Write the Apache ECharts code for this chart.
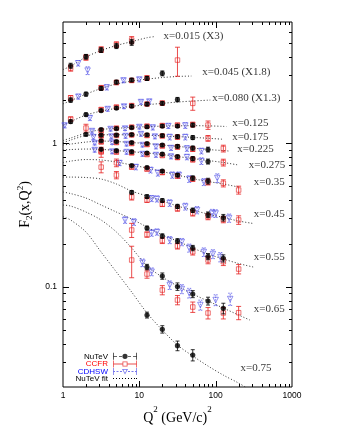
<!DOCTYPE html>
<html><head><meta charset="utf-8">
<script src="https://cdn.jsdelivr.net/npm/echarts@6/dist/echarts.min.js"></script>
<style>html,body{margin:0;padding:0;background:#fff}#c{width:338px;height:438px}</style>
</head><body><div id="c"></div>
<script>
// ---------------- data (values as plotted, i.e. already scaled) ----------------
const binLabels = ['x=0.015 (X3)','x=0.045 (X1.8)','x=0.080 (X1.3)','x=0.125','x=0.175','x=0.225','x=0.275','x=0.35','x=0.45','x=0.55','x=0.65','x=0.75'];
const xTickLabels = ['1','10','100','1000'];
const yTickLabels = ['0.1','1'];
const legendNames = ['NuTeV','CCFR','CDHSW','NuTeV fit'];

// [Q2, F2, error]
const nutev_015 = [[1.26,3.47,0.14],[2.00,4.01,0.15],[3.16,4.46,0.17],[5.01,4.76,0.19],[7.94,5.05,0.24]];
const ccfr_015  = [[1.26,3.34,0.16],[2.00,3.96,0.17],[3.16,4.50,0.20],[5.01,4.87,0.22],[7.94,5.24,0.30]];
const cdhsw_015 = [[1.58,3.61,0.16],[2.10,3.21,0.20]];
const fit_015   = [[1,3.26],[1.26,3.45],[2,3.99],[3.16,4.43],[5.01,4.80],[7.94,5.11],[12.6,5.44],[16,5.54]];

const nutev_045 = [[1.26,2.00,0.07],[2.00,2.20,0.07],[3.16,2.41,0.07],[5.01,2.67,0.08],[7.94,2.76,0.08],[12.6,2.83,0.09],[20.0,3.07,0.12]];
const ccfr_045  = [[1.26,2.07,0.08],[3.16,2.44,0.08],[5.01,2.65,0.09],[7.94,2.74,0.09],[12.6,2.85,0.10],[31.6,3.80,0.87]];
const cdhsw_045 = [[1.59,2.11,0.08],[3.75,2.45,0.10],[6.2,2.74,0.10],[10.0,2.78,0.10]];
const fit_045   = [[1,1.88],[1.26,1.98],[2,2.20],[3.16,2.41],[5.01,2.59],[7.94,2.71],[12.6,2.80],[20,2.87],[31.6,2.92],[48,2.94]];

const nutev_080 = [[1.26,1.416,0.04],[2.00,1.585,0.04],[3.16,1.690,0.04],[5.01,1.759,0.04],[7.94,1.816,0.045],[12.6,1.876,0.05],[20.0,1.897,0.05],[31.6,2.016,0.07]];
const ccfr_080  = [[1.26,1.474,0.05],[3.16,1.718,0.05],[5.01,1.788,0.05],[7.94,1.831,0.05],[12.6,1.876,0.05],[20.0,1.906,0.06],[50.1,1.897,0.20]];
const cdhsw_080 = [[1.05,1.329,0.05],[2.25,1.498,0.06],[3.85,1.731,0.06],[6.3,1.803,0.06],[10.5,1.937,0.07],[13.5,1.952,0.07]];
const fit_080   = [[1,1.329],[1.26,1.416],[2,1.572],[3.16,1.676],[5.01,1.751],[7.94,1.808],[12.6,1.855],[20,1.897],[31.6,1.937],[50,1.969],[85,2.000]];

const nutev_125 = [[3.16,1.246,0.025],[5.01,1.266,0.025],[7.94,1.287,0.025],[12.6,1.303,0.03],[20.0,1.318,0.03],[31.6,1.318,0.03],[50.1,1.339,0.04]];
const ccfr_125  = [[3.16,1.226,0.03],[5.01,1.276,0.03],[7.94,1.297,0.03],[12.6,1.318,0.03],[20.0,1.329,0.035],[31.6,1.339,0.04],[50.1,1.350,0.05],[79.4,1.339,0.09]];
const cdhsw_125 = [[2.4,1.216,0.04],[4.2,1.256,0.04],[6.5,1.266,0.04],[10,1.297,0.04],[15,1.287,0.05],[24,1.318,0.05],[40,1.329,0.06]];
const fit_125   = [[1,1.044],[1.26,1.087],[2,1.178],[3.16,1.246],[5.01,1.270],[7.94,1.291],[12.6,1.305],[20,1.316],[31.6,1.322],[50,1.326],[79.4,1.322],[126,1.311],[140,1.307]];

const nutev_175 = [[2.00,1.153,0.025],[3.16,1.141,0.02],[5.01,1.141,0.02],[7.94,1.150,0.02],[12.6,1.146,0.025],[20.0,1.132,0.025],[31.6,1.113,0.03],[50.1,1.096,0.035]];
const ccfr_175  = [[2.00,1.276,0.08],[3.16,1.123,0.025],[5.01,1.132,0.025],[7.94,1.141,0.025],[12.6,1.132,0.03],[20.0,1.123,0.03],[31.6,1.104,0.035],[79.4,1.082,0.05]];
const cdhsw_175 = [[2.5,1.104,0.04],[4.3,1.113,0.04],[6.6,1.123,0.04],[10.5,1.159,0.04],[16,1.113,0.04],[25,1.104,0.05],[40,1.104,0.05]];
const fit_175   = [[1,1.011],[1.26,1.053],[2,1.132],[3.16,1.144],[5.01,1.146],[7.94,1.144],[12.6,1.137],[20,1.126],[31.6,1.113],[50,1.099],[79.4,1.083],[126,1.066]];

const nutev_225 = [[3.16,1.041,0.02],[5.01,1.028,0.02],[7.94,1.011,0.02],[12.6,0.995,0.02],[20.0,0.972,0.02],[31.6,0.952,0.025],[50.1,0.926,0.03],[79.4,0.904,0.035]];
const ccfr_225  = [[3.16,1.019,0.025],[5.01,1.011,0.025],[7.94,0.995,0.025],[12.6,0.979,0.025],[20.0,0.956,0.025],[31.6,0.941,0.03],[50.1,0.911,0.035],[126,0.919,0.05]];
const cdhsw_225 = [[2.6,1.003,0.03],[4.4,1.011,0.03],[6.8,0.987,0.03],[11,0.972,0.03],[16.5,0.948,0.035],[26,0.926,0.035],[42,0.919,0.04],[65,0.882,0.04]];
const fit_225   = [[1,0.972],[1.26,0.987],[2,1.019],[3.16,1.036],[5.01,1.028],[7.94,1.011],[12.6,0.995],[20,0.972],[31.6,0.952],[50,0.926],[79.4,0.904],[126,0.889],[150,0.882]];

const nutev_275 = [[3.16,0.907,0.02],[5.01,0.887,0.02],[7.94,0.873,0.02],[12.6,0.855,0.02],[20.0,0.841,0.02],[31.6,0.808,0.02],[50.1,0.782,0.025],[79.4,0.746,0.03]];
const ccfr_275  = [[3.16,0.882,0.025],[5.01,0.868,0.025],[7.94,0.855,0.02],[12.6,0.834,0.02],[20.0,0.821,0.02],[31.6,0.795,0.025],[50.1,0.770,0.03],[126,0.734,0.04]];
const cdhsw_275 = [[2.6,0.897,0.03],[4.4,0.875,0.03],[6.8,0.868,0.03],[11,0.841,0.03],[16.5,0.828,0.03],[26,0.808,0.03],[42,0.801,0.035],[65,0.751,0.04]];
const fit_275   = [[1,0.897],[1.26,0.904],[2,0.911],[3.16,0.907],[5.01,0.889],[7.94,0.873],[12.6,0.855],[20,0.834],[31.6,0.808],[50,0.782],[79.4,0.758],[126,0.734],[200,0.705]];

const nutev_35 = [[7.94,0.699,0.015],[12.6,0.677,0.015],[20.0,0.640,0.015],[31.6,0.600,0.015],[50.1,0.572,0.02],[79.4,0.545,0.025]];
const ccfr_35  = [[3.16,0.868,0.07],[5.01,0.731,0.045],[7.94,0.682,0.02],[12.6,0.661,0.02],[20.0,0.625,0.02],[31.6,0.591,0.02],[50.1,0.563,0.02],[79.4,0.537,0.025],[126,0.526,0.03],[200,0.472,0.03]];
const cdhsw_35 = [[5.5,0.728,0.03],[9,0.682,0.03],[14,0.650,0.03],[17.5,0.620,0.03],[27,0.600,0.03],[33,0.600,0.03],[45,0.563,0.03],[70,0.537,0.03],[105,0.572,0.04]];
const fit_35   = [[1,0.734],[1.26,0.751],[2,0.770],[3.16,0.764],[5.01,0.740],[7.94,0.705],[12.6,0.672],[20,0.635],[31.6,0.600],[50,0.567],[79.4,0.541],[126,0.520],[200,0.495]];

const nutev_45 = [[7.94,0.455,0.012],[12.6,0.425,0.012],[20.0,0.399,0.012],[31.6,0.363,0.012],[50.1,0.341,0.012],[79.4,0.318,0.014],[126,0.303,0.016]];
const ccfr_45  = [[3.16,0.682,0.06],[5.01,0.600,0.035],[7.94,0.422,0.02],[12.6,0.402,0.015],[20.0,0.377,0.015],[31.6,0.351,0.015],[50.1,0.326,0.015],[79.4,0.308,0.015],[126,0.294,0.015],[200,0.292,0.02]];
const cdhsw_45 = [[14.5,0.412,0.02],[17,0.409,0.02],[25,0.383,0.02],[40,0.362,0.02],[57,0.342,0.02],[90,0.326,0.02],[100,0.324,0.02],[150,0.301,0.02]];
const fit_45   = [[1,0.581],[1.26,0.581],[2,0.577],[3.16,0.563],[5.01,0.520],[7.94,0.464],[12.6,0.429],[20,0.396],[31.6,0.365],[50,0.342],[79.4,0.321],[126,0.304],[200,0.287],[310,0.276]];

const nutev_55 = [[12.6,0.2565,0.008],[20.0,0.2255,0.008],[31.6,0.2083,0.008],[50.1,0.1861,0.008],[79.4,0.1623,0.008],[126,0.1577,0.009]];
const ccfr_55  = [[7.94,0.2484,0.028],[12.6,0.2311,0.01],[20.0,0.2099,0.01],[31.6,0.1921,0.009],[50.1,0.1753,0.009],[79.4,0.1535,0.009],[126,0.1494,0.009],[200,0.1328,0.01]];
const cdhsw_55 = [[6.5,0.2915,0.015],[8.5,0.2824,0.015],[14.5,0.2367,0.012],[17,0.2405,0.012],[25,0.2116,0.012],[36,0.2049,0.012],[45,0.1861,0.012],[70,0.1744,0.012],[92,0.169,0.012],[115,0.161,0.012]];
const fit_55   = [[1,0.457],[1.26,0.446],[2,0.415],[3.16,0.371],[5.01,0.3315],[7.94,0.2963],[12.6,0.2606],[20,0.2292],[31.6,0.2083],[50,0.1861],[79.4,0.169],[126,0.156],[200,0.1451],[310,0.1372]];

const nutev_65 = [[12.6,0.1372,0.006],[20.0,0.1187,0.006],[31.6,0.1003,0.006],[50.1,0.0889,0.005],[79.4,0.0795,0.005],[126,0.0707,0.006]];
const ccfr_65  = [[7.94,0.1535,0.038],[12.6,0.1226,0.008],[20.0,0.0948,0.007],[31.6,0.0808,0.006],[50.1,0.0722,0.006],[79.4,0.0656,0.006],[126,0.0656,0.006],[200,0.0659,0.007]];
const cdhsw_65 = [[11,0.147,0.009],[14.5,0.1272,0.008],[25,0.1027,0.007],[36,0.0964,0.007],[45,0.0904,0.007],[63,0.0746,0.006],[100,0.0808,0.007],[155,0.0821,0.008]];
const fit_65   = [[1,0.371],[1.26,0.365],[2,0.3315],[3.16,0.2915],[5.01,0.2405],[7.94,0.1861],[12.6,0.1394],[20,0.1168],[31.6,0.1011],[50,0.0889],[79.4,0.0795],[126,0.0710],[200,0.0635],[280,0.0586]];

const nutev_75 = [[12.6,0.0635,0.003],[20.0,0.0505,0.003],[31.6,0.0388,0.003],[50.1,0.0334,0.003]];
const ccfr_75  = [];
const cdhsw_75 = [];
const fit_75   = [[1,0.3075],[1.26,0.2915],[2,0.2405],[3.16,0.1744],[5.01,0.1266],[7.94,0.0918],[12.6,0.0656],[20,0.0499],[31.6,0.0392],[50,0.0329],[79.4,0.028],[126,0.0242],[200,0.0213],[245,0.0200]];

const nutevBins = [nutev_015,nutev_045,nutev_080,nutev_125,nutev_175,nutev_225,nutev_275,nutev_35,nutev_45,nutev_55,nutev_65,nutev_75];
const ccfrBins  = [ccfr_015,ccfr_045,ccfr_080,ccfr_125,ccfr_175,ccfr_225,ccfr_275,ccfr_35,ccfr_45,ccfr_55,ccfr_65,ccfr_75];
const cdhswBins = [cdhsw_015,cdhsw_045,cdhsw_080,cdhsw_125,cdhsw_175,cdhsw_225,cdhsw_275,cdhsw_35,cdhsw_45,cdhsw_55,cdhsw_65,cdhsw_75];
const fitBins   = [fit_015,fit_045,fit_080,fit_125,fit_175,fit_225,fit_275,fit_35,fit_45,fit_55,fit_65,fit_75];

// ---------------- layout / style ----------------
const labelAnchors = [[20.4,5.585],[65.6,3.15],[88.8,2.055],[162,1.39],[162,1.105],[189,0.911],[268,0.705],[311,0.539],[311,0.321],[311,0.1618],[311,0.0696],[208,0.027]];
const X_MIN = 1, X_MAX = 1000, Y_MIN = 0.02, Y_MAX = 7;
const SERIF = '"Liberation Serif", "Times New Roman", serif';
const SANS = '"Liberation Sans", Arial, sans-serif';
const C_NUTEV = '#000000', C_CCFR = '#e62020', C_CDHSW = '#5555e8', C_FIT = '#333333';

const ICON_NUTEV = 'path://M0,0h0.8v7h-0.8z M0,3.1h4v0.8h-4z M6,3.1h3v0.8h-3z M15,3.1h3v0.8h-3z M20,3.1h4v0.8h-4z M23.2,0h0.8v7h-0.8z M14.6,3.5a2.6,2.6 0 1,0 -5.2,0a2.6,2.6 0 1,0 5.2,0z';
const ICON_CCFR = 'path://M0,0h0.8v7h-0.8z M0,3.1h9.5v0.8h-9.5z M14.5,3.1h9.5v0.8h-9.5z M23.2,0h0.8v7h-0.8z M9.5,1h5v5h-5z M10.3,1.8v3.4h3.4v-3.4z';
const ICON_CDHSW = 'path://M0,0h0.8v7h-0.8z M0,3.1h2v0.8h-2z M3.5,3.1h2v0.8h-2z M7,3.1h2v0.8h-2z M15,3.1h2v0.8h-2z M18.5,3.1h2v0.8h-2z M22,3.1h2v0.8h-2z M23.2,0h0.8v7h-0.8z M9,1L15,1L12,6.5z M10.4,1.8L12,4.9L13.6,1.8z';
const ICON_FIT = 'path://M0,0h1v1h-1z M3,0h1v1h-1z M6,0h1v1h-1z M9,0h1v1h-1z M12,0h1v1h-1z M15,0h1v1h-1z M18,0h1v1h-1z M21,0h1v1h-1z M23,0h1v1h-1z';

function errSeries(name, data, color, cap, dash, z) {
  return {
    type: 'custom', name: name, data: data, z: z, silent: true,
    encode: {x: 0, y: 1},
    renderItem: function (params, api) {
      const x = api.value(0), v = api.value(1), e = api.value(2);
      const lo = api.coord([x, v - e]), hi = api.coord([x, v + e]);
      const st = {stroke: color, lineWidth: 0.8, lineDash: dash, fill: null};
      return {type: 'group', children: [
        {type: 'line', shape: {x1: lo[0], y1: lo[1], x2: hi[0], y2: hi[1]}, style: st},
        {type: 'line', shape: {x1: lo[0] - cap, y1: lo[1], x2: lo[0] + cap, y2: lo[1]}, style: st},
        {type: 'line', shape: {x1: hi[0] - cap, y1: hi[1], x2: hi[0] + cap, y2: hi[1]}, style: st}
      ]};
    }
  };
}

const series = [];
fitBins.forEach(function (d) {
  series.push({type: 'line', name: 'NuTeV fit', data: d, smooth: 0.3, symbol: 'none', silent: true, z: 1,
    lineStyle: {color: C_FIT, width: 1, type: [1, 2]}, itemStyle: {color: C_FIT}});
});
cdhswBins.forEach(function (d) {
  series.push(errSeries('CDHSW err', d, C_CDHSW, 2, [1.5, 1], 2));
  series.push({type: 'scatter', name: 'CDHSW', data: d, symbol: 'triangle', symbolRotate: 180, symbolSize: 5.5, z: 3, silent: true,
    itemStyle: {color: 'rgba(255,255,255,0)', borderColor: C_CDHSW, borderWidth: 0.8}});
});
ccfrBins.forEach(function (d) {
  series.push(errSeries('CCFR err', d, C_CCFR, 2.5, null, 4));
  series.push({type: 'scatter', name: 'CCFR', data: d, symbol: 'rect', symbolSize: 4.5, z: 5, silent: true,
    itemStyle: {color: 'rgba(255,255,255,0)', borderColor: C_CCFR, borderWidth: 0.8}});
});
nutevBins.forEach(function (d) {
  series.push(errSeries('NuTeV err', d, C_NUTEV, 2, null, 6));
  series.push({type: 'scatter', name: 'NuTeV', data: d, symbol: 'circle', symbolSize: 5.2, z: 7, silent: true,
    itemStyle: {color: C_NUTEV}});
});
// bin labels
series.push({type: 'scatter', name: 'labels', silent: true, z: 8, symbolSize: 1,
  itemStyle: {color: 'rgba(0,0,0,0)'},
  data: labelAnchors.map(function (p, i) { return {value: p, name: binLabels[i]}; }),
  label: {show: true, position: 'right', distance: 0, formatter: '{b}', fontFamily: SERIF, fontSize: 11, color: '#000'}});
// frame ticks (major at decades, minor at 2..9)
const tickData = [];
for (let d = 0; d < 3; d++) for (let m = 1; m <= 9; m++) {
  const v = m * Math.pow(10, d);
  if (v > X_MIN && v < X_MAX) tickData.push([v, Y_MIN, 0, m === 1 ? 1 : 0]);
}
for (let d = -2; d <= 0; d++) for (let m = 1; m <= 9; m++) {
  const v = +(m * Math.pow(10, d)).toPrecision(6);
  if (v > Y_MIN && v < Y_MAX) tickData.push([X_MIN, v, 1, m === 1 ? 1 : 0]);
}
series.push({type: 'custom', name: 'ticks', silent: true, z: 9, data: tickData, encode: {x: 0, y: 1},
  renderItem: function (params, api) {
    const v0 = api.value(0), v1 = api.value(1), kind = api.value(2), major = api.value(3);
    const len = major ? 6 : 3;
    const st = {stroke: '#000', lineWidth: 1};
    if (kind === 0) {
      const b = api.coord([v0, Y_MIN]), t = api.coord([v0, Y_MAX]);
      const x = Math.round(b[0]) + 0.5;
      return {type: 'group', children: [
        {type: 'line', shape: {x1: x, y1: b[1], x2: x, y2: b[1] - len}, style: st},
        {type: 'line', shape: {x1: x, y1: t[1], x2: x, y2: t[1] + len}, style: st}]};
    }
    const l = api.coord([X_MIN, v1]), r = api.coord([X_MAX, v1]);
    const y = Math.round(l[1]) + 0.5;
    return {type: 'group', children: [
      {type: 'line', shape: {x1: l[0], y1: y, x2: l[0] + len, y2: y}, style: st},
      {type: 'line', shape: {x1: r[0], y1: y, x2: r[0] - len, y2: y}, style: st}]};
  }});

function tickFmt(labels) {
  return function (v) {
    const s = labels.find(function (t) { return Math.abs(Number(t) - v) < 1e-6 * Math.max(1, v); });
    return s || '';
  };
}

const legendCommon = {orient: 'vertical', align: 'right', itemWidth: 24, itemHeight: 7, padding: 0, right: 201,
  selectedMode: false, textStyle: {fontFamily: SANS, fontSize: 8, lineHeight: 8}};
const legendTops = [352.3, 360, 367.5, 374.5];
const legendIcons = [ICON_NUTEV, ICON_CCFR, ICON_CDHSW, ICON_FIT];
const legendIconColors = [C_NUTEV, C_CCFR, C_CDHSW, '#000'];
const legendTextColors = ['#000', '#ff0000', '#0000ff', '#000'];
const legends = legendNames.map(function (n, i) {
  return Object.assign({}, legendCommon, {top: legendTops[i],
    data: [{name: n, icon: legendIcons[i], itemStyle: {color: legendIconColors[i], borderWidth: 0},
      textStyle: {color: legendTextColors[i], fontFamily: SANS, fontSize: 8, lineHeight: 8}}]});
});

const chart = echarts.init(document.getElementById('c'), null, {renderer: 'canvas'});
chart.setOption({
  animation: false,
  backgroundColor: '#fff',
  grid: {left: 63, right: 46, top: 22, bottom: 51, show: true, borderColor: '#000', borderWidth: 1, backgroundColor: 'transparent'},
  legend: legends,
  xAxis: {type: 'log', logBase: 10, min: X_MIN, max: X_MAX,
    axisLine: {show: false}, axisTick: {show: false}, splitLine: {show: false},
    axisLabel: {fontFamily: SANS, fontSize: 8.5, color: '#000', margin: 4, formatter: tickFmt(xTickLabels)},
    name: '{m|Q}{s|2}{m| (GeV/c)}{s|2}', nameLocation: 'middle', nameGap: 7,
    nameTextStyle: {rich: {
      m: {fontFamily: SERIF, fontSize: 14, color: '#000', lineHeight: 20, verticalAlign: 'bottom'},
      s: {fontFamily: SERIF, fontSize: 9, color: '#000', lineHeight: 9, verticalAlign: 'top'}}}},
  yAxis: {type: 'log', logBase: 10, min: Y_MIN, max: Y_MAX,
    axisLine: {show: false}, axisTick: {show: false}, splitLine: {show: false},
    axisLabel: {fontFamily: SANS, fontSize: 8.5, color: '#000', margin: 6, formatter: tickFmt(yTickLabels)},
    name: '{m|F}{b|2}{m|(x,Q}{s|2}{m|)}', nameLocation: 'middle', nameGap: 17,
    nameTextStyle: {rich: {
      m: {fontFamily: SERIF, fontSize: 14, color: '#000', lineHeight: 18, verticalAlign: 'middle'},
      s: {fontFamily: SERIF, fontSize: 9, color: '#000', lineHeight: 9, verticalAlign: 'top'},
      b: {fontFamily: SERIF, fontSize: 9, color: '#000', lineHeight: 9, verticalAlign: 'bottom'}}}},
  series: series
});
</script>
</body></html>
